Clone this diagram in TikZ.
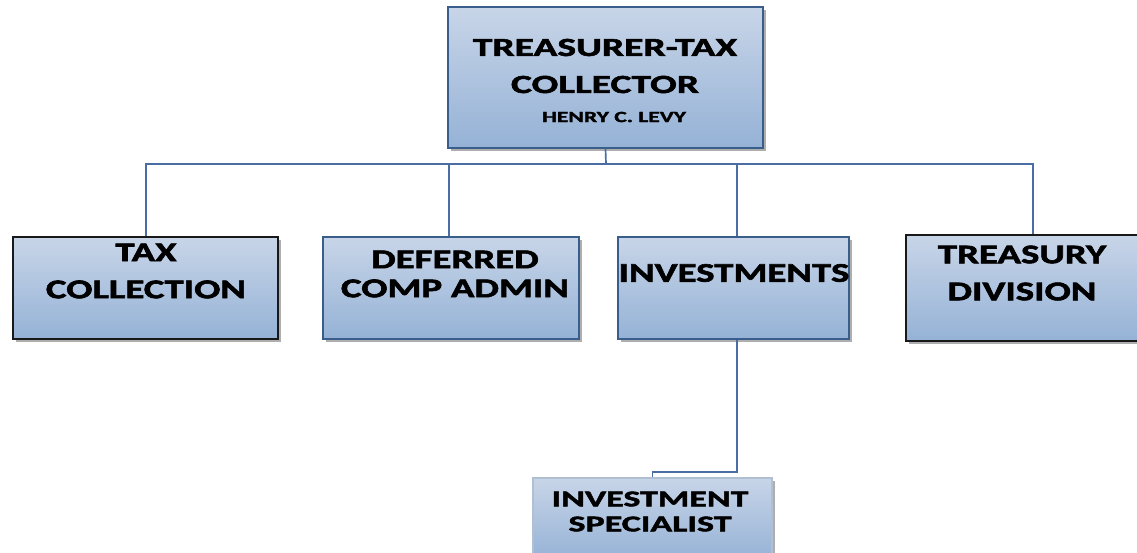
\documentclass[tikz,border=0pt]{standalone}
\usepackage{fontspec}
\newfontfamily\bxA[FakeStretch=1.52,FakeBold=2.2]{Carlito Bold}
\newfontfamily\bxB[FakeStretch=1.44,FakeBold=2.2]{Carlito Bold}
\newfontfamily\bxC[FakeStretch=1.6,FakeBold=2.2]{Carlito Bold}
\usetikzlibrary{shadows}
\definecolor{boxtop}{HTML}{C8D5E8}
\definecolor{boxbot}{HTML}{95B2D6}
\definecolor{boxline}{HTML}{3A5E8C}
\definecolor{conn}{HTML}{4A6EA3}
\tikzset{
  orgbox/.style={draw=boxline, line width=1.6pt, top color=boxtop, bottom color=boxbot,
    inner sep=0pt, drop shadow={shadow xshift=3pt, shadow yshift=-3pt, fill=black!45, opacity=0.7}},
  darkbox/.style={orgbox, draw=black!90},
  lbl/.style={inner sep=0pt, align=center, text=black},
  conn/.style={draw=conn, line width=1.7pt}
}
\begin{document}
\begin{tikzpicture}[x=1pt,y=1pt]
\useasboundingbox (0,0) rectangle (1137,-552);
\begin{scope}
\clip (0,0) rectangle (1137,-552);
% boxes
\node[orgbox, minimum width=315pt, minimum height=141pt] (top) at (605.5,-77.5) {};
\node[darkbox, minimum width=265pt, minimum height=102pt] (tax) at (145.5,-288) {};
\node[orgbox, minimum width=256pt, minimum height=102pt] (def) at (451,-288) {};
\node[orgbox, minimum width=231pt, minimum height=102pt] (inv) at (733.5,-288) {};
\node[darkbox, minimum width=236pt, minimum height=106pt] (tre) at (1024,-288) {};
\node[orgbox, draw=boxline!40, minimum width=239pt, minimum height=82pt] (spec) at (652.5,-519) {};
% labels
\node[lbl, font=\bxA\fontsize{26}{37}\selectfont] (topT) at (605,-66) {TREASURER-TAX\\COLLECTOR};
\node[lbl, font=\bxA\fontsize{15.5}{18}\selectfont] (topN) at (614,-117) {HENRY C. LEVY};
\node[lbl, font=\bxB\fontsize{27}{37}\selectfont] (taxT) at (146,-271) {TAX\\COLLECTION};
\node[lbl, font=\bxB\fontsize{27}{29}\selectfont] (defT) at (455,-274) {DEFERRED\\COMP ADMIN};
\node[lbl, font=\bxB\fontsize{27}{37}\selectfont] (invT) at (734,-273) {INVESTMENTS};
\node[lbl, font=\bxB\fontsize{27}{37}\selectfont] (treT) at (1022,-273) {TREASURY\\DIVISION};
\node[lbl, font=\bxC\fontsize{22.5}{25}\selectfont] (specT) at (650,-511.5) {INVESTMENT\\SPECIALIST};
\end{scope}
% connectors
\coordinate (bus) at (606,-164);
\draw[conn] (top.south) -- (bus);
\draw[conn] (bus) -| ([xshift=0.5pt]tax.north);
\draw[conn] (bus) -| ([xshift=-2pt]def.north);
\draw[conn] (bus) -| ([xshift=3.5pt]inv.north);
\draw[conn] (bus) -| ([xshift=9pt]tre.north);
\draw[conn] ([xshift=3.5pt]inv.south) -- ++(0,-132) -| (spec.north);
\end{tikzpicture}
\end{document}
